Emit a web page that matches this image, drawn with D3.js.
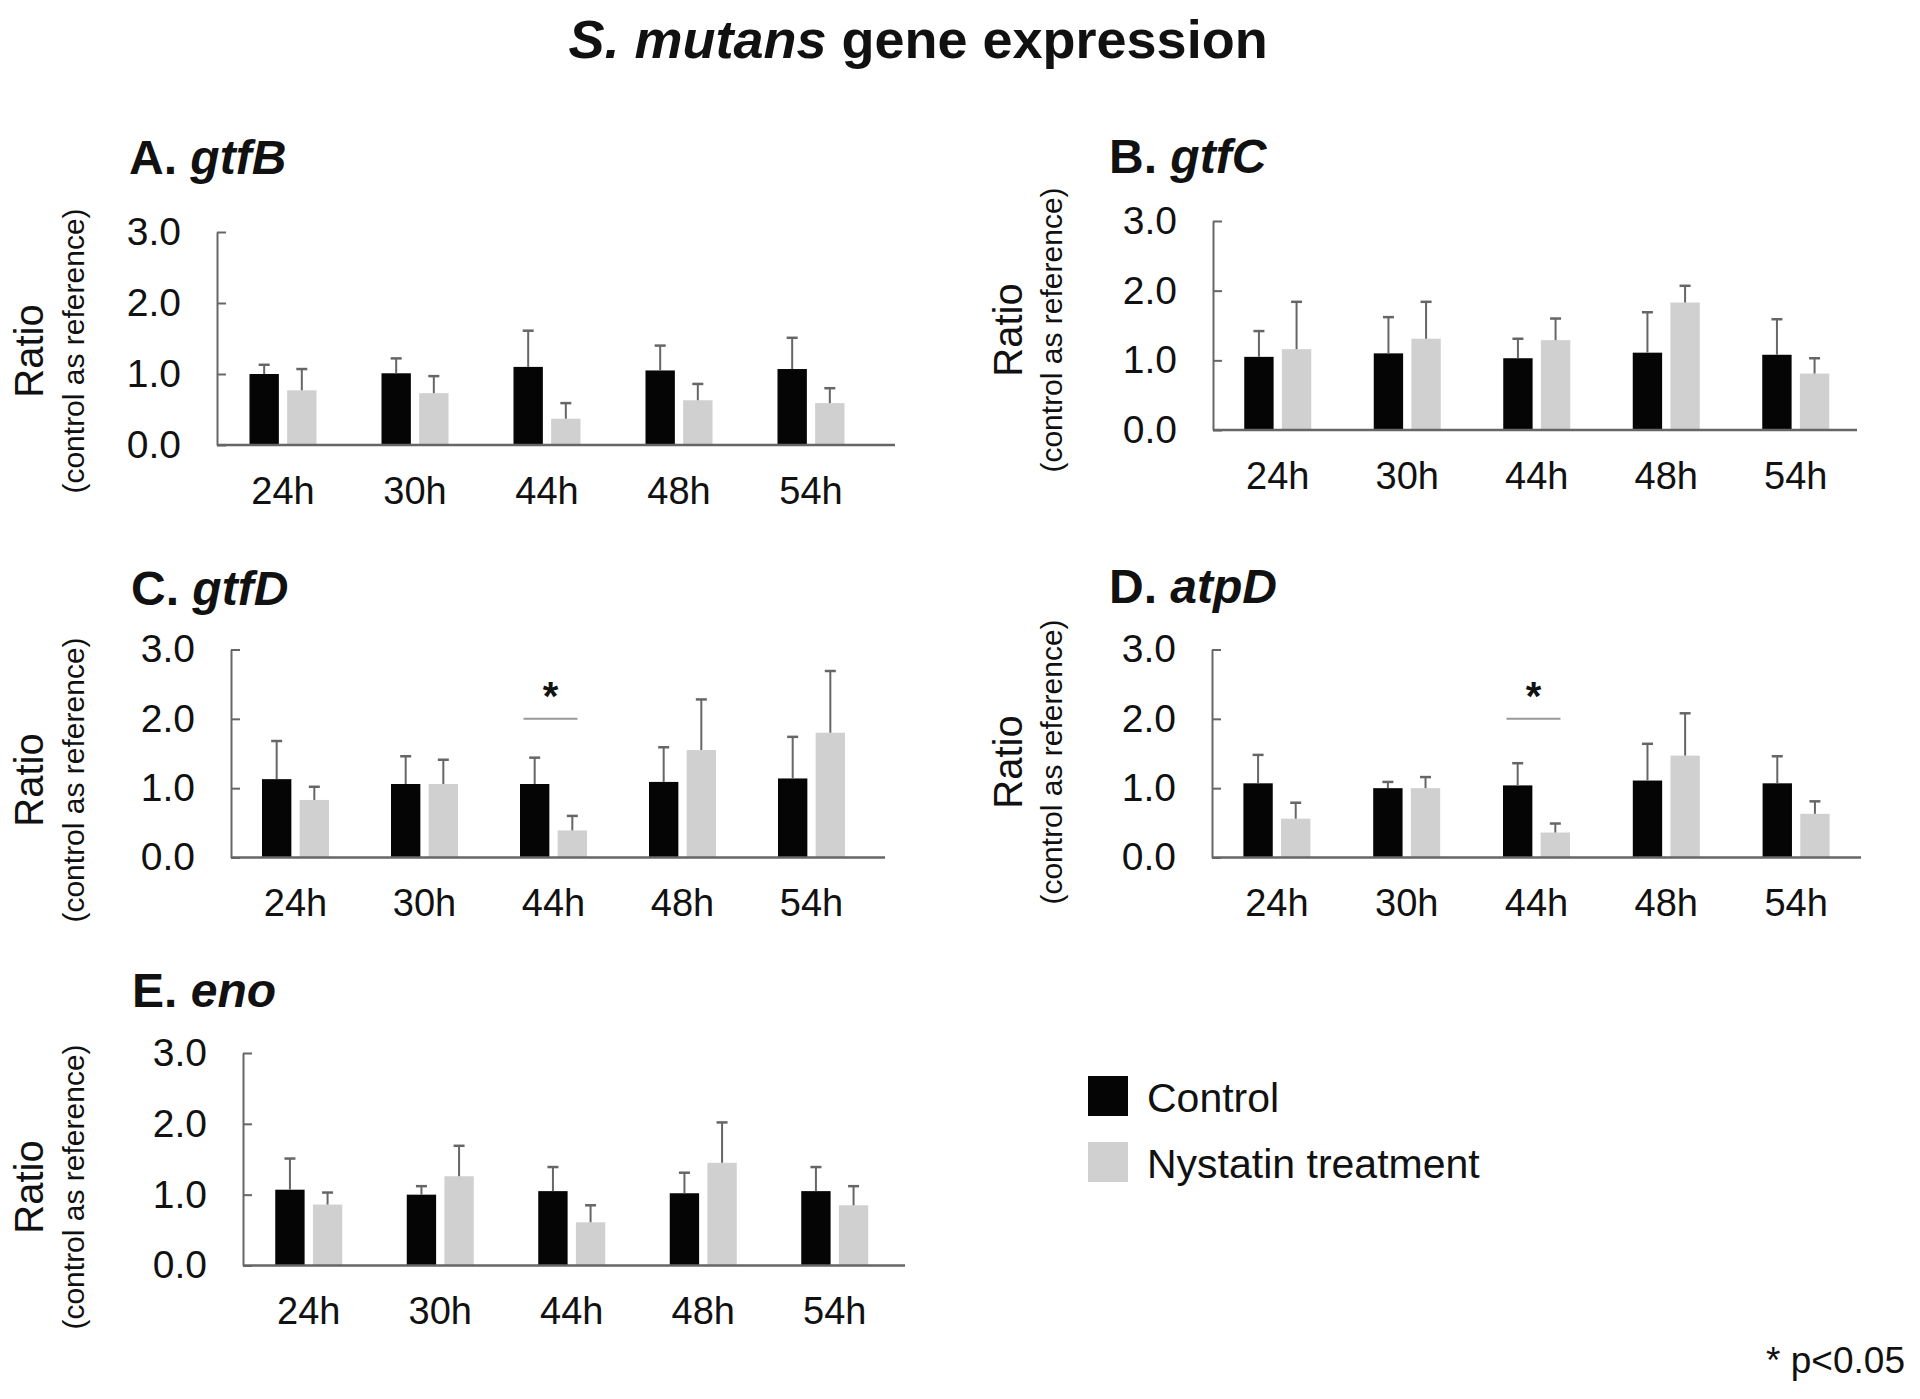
<!DOCTYPE html>
<html>
<head>
<meta charset="utf-8">
<script src="https://cdn.jsdelivr.net/npm/d3@7"></script>
<style>
  html, body { margin: 0; padding: 0; background: #fff; }
  svg { display: block; font-family: "Liberation Sans", Arial, Helvetica, sans-serif; }
</style>
</head>
<body>
<svg id="chart" width="1920" height="1399"></svg>
<script>
// ---------------- DATA ----------------
const categories = ["24h", "30h", "44h", "48h", "54h"];
const seriesNames = ["Control", "Nystatin treatment"];
const yTickValues = [0, 1, 2, 3];
const panelLetters = ["A", "B", "C", "D", "E"];
const geneNames = ["gtfB", "gtfC", "gtfD", "atpD", "eno"];

// mean ratio and SD (error bar length) per time point
const gtfB_control     = [1.00, 1.01, 1.10, 1.05, 1.07];
const gtfB_control_sd  = [0.13, 0.21, 0.51, 0.35, 0.44];
const gtfB_nystatin    = [0.77, 0.73, 0.37, 0.63, 0.59];
const gtfB_nystatin_sd = [0.30, 0.24, 0.22, 0.23, 0.21];

const gtfC_control     = [1.05, 1.10, 1.03, 1.11, 1.08];
const gtfC_control_sd  = [0.37, 0.52, 0.28, 0.58, 0.51];
const gtfC_nystatin    = [1.16, 1.31, 1.29, 1.83, 0.81];
const gtfC_nystatin_sd = [0.68, 0.53, 0.31, 0.24, 0.22];

const gtfD_control     = [1.13, 1.06, 1.06, 1.09, 1.14];
const gtfD_control_sd  = [0.55, 0.40, 0.38, 0.50, 0.60];
const gtfD_nystatin    = [0.83, 1.06, 0.39, 1.55, 1.80];
const gtfD_nystatin_sd = [0.19, 0.35, 0.21, 0.73, 0.89];

const atpD_control     = [1.07, 1.00, 1.04, 1.11, 1.07];
const atpD_control_sd  = [0.41, 0.09, 0.32, 0.53, 0.39];
const atpD_nystatin    = [0.56, 1.00, 0.36, 1.47, 0.63];
const atpD_nystatin_sd = [0.23, 0.16, 0.13, 0.61, 0.18];

const eno_control      = [1.07, 1.00, 1.05, 1.02, 1.05];
const eno_control_sd   = [0.44, 0.12, 0.34, 0.29, 0.34];
const eno_nystatin     = [0.86, 1.26, 0.61, 1.45, 0.85];
const eno_nystatin_sd  = [0.17, 0.43, 0.24, 0.57, 0.27];

// significance marks: [gene, category, bracket level]
const significance = [["gtfD", "44h", 2.0], ["atpD", "44h", 2.0]];
const mainTitleItalic = "S. mutans";
const mainTitleRest = " gene expression";
const yLabelMain = "Ratio";
const yLabelSub = "(control as reference)";
const pNote = "* p<0.05";

const geneData = {
  gtfB: [gtfB_control, gtfB_control_sd, gtfB_nystatin, gtfB_nystatin_sd],
  gtfC: [gtfC_control, gtfC_control_sd, gtfC_nystatin, gtfC_nystatin_sd],
  gtfD: [gtfD_control, gtfD_control_sd, gtfD_nystatin, gtfD_nystatin_sd],
  atpD: [atpD_control, atpD_control_sd, atpD_nystatin, atpD_nystatin_sd],
  eno:  [eno_control,  eno_control_sd,  eno_nystatin,  eno_nystatin_sd]
};

// ---------------- LAYOUT ----------------
const layout = [
  {ox: 217,  yTop: 232,   yZero: 445,   step: 132,   xEnd: 895,  tx: 129,  ty: 174,  rx: 29,   px: 73,   cy: 351},
  {ox: 1213, yTop: 221,   yZero: 430,   step: 129.5, xEnd: 1857, tx: 1109, ty: 173,  rx: 1008, px: 1051, cy: 330},
  {ox: 231,  yTop: 649.5, yZero: 857.5, step: 129,   xEnd: 885,  tx: 131,  ty: 605,  rx: 29,   px: 73,   cy: 780},
  {ox: 1212, yTop: 649.5, yZero: 857.5, step: 129.8, xEnd: 1861, tx: 1109, ty: 603,  rx: 1008, px: 1051, cy: 762},
  {ox: 243,  yTop: 1053,  yZero: 1265.5,step: 131.5, xEnd: 905,  tx: 132,  ty: 1007, rx: 29,   px: 73,   cy: 1187}
];
const colors = {Control: "#050505", "Nystatin treatment": "#d0d0d0"};
const axisColor = "#666";

const svg = d3.select("#chart");

// main title
const mt = svg.append("text")
  .attr("x", 918).attr("y", 58)
  .attr("text-anchor", "middle")
  .attr("font-size", 54).attr("font-weight", "bold").attr("fill", "#111");
mt.append("tspan").attr("font-style", "italic").text(mainTitleItalic);
mt.append("tspan").text(mainTitleRest);

geneNames.forEach((gene, i) => {
  const L = layout[i];
  const [cMean, cSd, nMean, nSd] = geneData[gene];
  const g = svg.append("g");

  const x = d3.scaleBand().domain(categories)
    .range([L.ox, L.ox + L.step * categories.length]).padding(0);
  const xs = d3.scaleBand().domain(seriesNames)
    .range([-33.5, 33.5]).paddingInner(0.22).paddingOuter(0);
  const y = d3.scaleLinear().domain([0, 3]).range([L.yZero, L.yTop]);

  // title
  const t = g.append("text").attr("x", L.tx).attr("y", L.ty)
    .attr("font-size", 48).attr("font-weight", "bold").attr("fill", "#111");
  t.append("tspan").text(panelLetters[i] + ". ");
  t.append("tspan").attr("font-style", "italic").text(gene);

  // y label
  g.append("text")
    .attr("transform", `translate(${L.rx},${L.cy}) rotate(-90)`)
    .attr("text-anchor", "middle").attr("dominant-baseline", "central")
    .attr("font-size", 40).attr("fill", "#111").text(yLabelMain);
  g.append("text")
    .attr("transform", `translate(${L.px},${L.cy}) rotate(-90)`)
    .attr("text-anchor", "middle").attr("dominant-baseline", "central")
    .attr("font-size", 30).attr("fill", "#111").text(yLabelSub);

  // bars
  const rows = [];
  categories.forEach((c, k) => {
    rows.push({cat: c, s: seriesNames[0], v: cMean[k], sd: cSd[k]});
    rows.push({cat: c, s: seriesNames[1], v: nMean[k], sd: nSd[k]});
  });
  const cx = d => x(d.cat) + x.bandwidth() / 2 + xs(d.s);
  g.selectAll("rect.bar").data(rows).join("rect")
    .attr("class", "bar")
    .attr("x", cx)
    .attr("width", xs.bandwidth())
    .attr("y", d => y(d.v))
    .attr("height", d => y(0) - y(d.v))
    .attr("fill", d => colors[d.s]);

  // error bars
  const eb = g.selectAll("g.err").data(rows).join("g").attr("class", "err");
  eb.append("line")
    .attr("x1", d => cx(d) + xs.bandwidth() / 2).attr("x2", d => cx(d) + xs.bandwidth() / 2)
    .attr("y1", d => y(d.v)).attr("y2", d => y(d.v + d.sd))
    .attr("stroke", axisColor).attr("stroke-width", 2);
  eb.append("line")
    .attr("x1", d => cx(d) + xs.bandwidth() / 2 - 5.5).attr("x2", d => cx(d) + xs.bandwidth() / 2 + 5.5)
    .attr("y1", d => y(d.v + d.sd)).attr("y2", d => y(d.v + d.sd))
    .attr("stroke", axisColor).attr("stroke-width", 2.5);

  // y axis
  const yAxis = d3.axisLeft(y).tickValues(yTickValues)
    .tickFormat(d3.format(".1f")).tickSizeInner(-9).tickSizeOuter(0).tickPadding(36);
  const ya = g.append("g").attr("transform", `translate(${L.ox},0)`).call(yAxis);
  ya.select(".domain").attr("stroke", axisColor).attr("stroke-width", 2);
  ya.selectAll(".tick line").attr("stroke", axisColor).attr("stroke-width", 2);
  ya.selectAll(".tick text").attr("font-size", 39).attr("fill", "#111")
    .attr("font-family", null);

  // x axis
  const xAxis = d3.axisBottom(x).tickSize(0).tickPadding(32);
  const xa = g.append("g").attr("transform", `translate(0,${L.yZero})`).call(xAxis);
  xa.select(".domain").remove();
  xa.selectAll(".tick text").attr("font-size", 38).attr("fill", "#111")
    .attr("font-family", null);
  g.append("line")
    .attr("x1", L.ox).attr("x2", L.xEnd)
    .attr("y1", y(0)).attr("y2", y(0))
    .attr("stroke", axisColor).attr("stroke-width", 2.5);

  // significance
  significance.filter(s => s[0] === gene).forEach(s => {
    const gc = x(s[1]) + x.bandwidth() / 2;
    g.append("line")
      .attr("x1", gc - 30).attr("x2", gc + 24)
      .attr("y1", y(s[2])).attr("y2", y(s[2]))
      .attr("stroke", "#999").attr("stroke-width", 2);
    g.append("text")
      .attr("x", gc - 3).attr("y", y(s[2] + 0.33))
      .attr("text-anchor", "middle").attr("dominant-baseline", "central")
      .attr("font-size", 40).attr("font-weight", "bold").attr("fill", "#111")
      .text("*");
  });
});

// legend
const lg = svg.append("g");
seriesNames.forEach((s, k) => {
  const yy = 1076 + k * 66;
  lg.append("rect").attr("x", 1088).attr("y", yy).attr("width", 40).attr("height", 40)
    .attr("fill", colors[s]);
  lg.append("text").attr("x", 1147).attr("y", yy + 36)
    .attr("font-size", 41).attr("fill", "#111").text(s);
});

svg.append("text").attr("x", 1905).attr("y", 1373)
  .attr("text-anchor", "end").attr("font-size", 37).attr("fill", "#111").text(pNote);
</script>
</body>
</html>
